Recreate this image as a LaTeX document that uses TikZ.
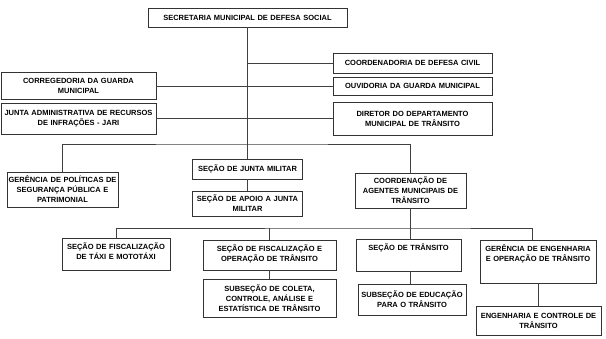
\documentclass[tikz,border=0pt]{standalone}
\usepackage{fontspec}
\setmainfont{Liberation Sans}
\begin{document}
\begin{tikzpicture}[x=1pt,y=-1pt,
  unit/.style={draw=black!80,line width=0.9pt,align=center,inner xsep=1pt,inner ysep=1.5pt,
    font=\bfseries\fontsize{7.5}{10}\selectfont},
  link/.style={black!75,line width=0.8pt}]
  \useasboundingbox (0,0) rectangle (606,339);
  % upper part
  \node[unit,text width=197pt,minimum height=19pt] (sec) at (247.5,17.5) {SECRETARIA MUNICIPAL DE DEFESA SOCIAL};
  \node[unit,text width=157pt,minimum height=20pt] (civil) at (412.5,63) {COORDENADORIA DE DEFESA CIVIL};
  \node[unit,text width=157pt,minimum height=18pt] (ouv) at (412.5,86) {OUVIDORIA DA GUARDA MUNICIPAL};
  \node[unit,text width=157pt,minimum height=33pt] (dir) at (412.5,118.5) {DIRETOR DO DEPARTAMENTO\\MUNICIPAL DE TRÂNSITO};
  \node[unit,text width=153pt,minimum height=27pt] (corr) at (78.5,86) {CORREGEDORIA DA GUARDA\\MUNICIPAL};
  \node[unit,text width=153pt,minimum height=31pt] (jari) at (78.5,118.5) {JUNTA ADMINISTRATIVA DE RECURSOS\\DE INFRAÇÕES - JARI};
  % second level
  \node[unit,text width=109pt,minimum height=35pt] (gpol) at (62.5,189.5) {GERÊNCIA DE POLÍTICAS DE\\SEGURANÇA PÚBLICA E\\PATRIMONIAL};
  \node[unit,text width=108pt,minimum height=20pt] (jmil) at (247.5,169) {SEÇÃO DE JUNTA MILITAR};
  \node[unit,text width=108pt,minimum height=25pt] (apoio) at (247.5,203.5) {SEÇÃO DE APOIO A JUNTA\\MILITAR};
  \node[unit,text width=109pt,minimum height=35pt] (cagt) at (410.5,190.5) {COORDENAÇÃO DE\\AGENTES MUNICIPAIS DE\\TRÂNSITO};
  % third level
  \node[unit,text width=106pt,text height=10.5pt,text depth=18.5pt] (taxi) at (116,254) {SEÇÃO DE FISCALIZAÇÃO\\DE TÁXI E MOTOTÁXI};
  \node[unit,text width=131pt,text height=10.5pt,text depth=16.5pt] (fisc) at (269.5,255) {SEÇÃO DE FISCALIZAÇÃO E\\OPERAÇÃO DE TRÂNSITO};
  \node[unit,text width=131pt,minimum height=38pt] (coleta) at (269.5,298) {SUBSEÇÃO DE COLETA,\\CONTROLE, ANÁLISE E\\ESTATÍSTICA DE TRÂNSITO};
  \node[unit,text width=103pt,text height=10.5pt,text depth=18.5pt] (strans) at (408.5,255) {SEÇÃO DE TRÂNSITO};
  \node[unit,text width=106pt,minimum height=31pt] (educ) at (412,299.5) {SUBSEÇÃO DE EDUCAÇÃO\\PARA O TRÂNSITO};
  \node[unit,text width=114pt,text height=10.5pt,text depth=29.5pt] (geng) at (538,261.5) {GERÊNCIA DE ENGENHARIA\\E OPERAÇÃO DE TRÂNSITO};
  \node[unit,text width=123pt,minimum height=29pt] (eng) at (538.5,320.5) {ENGENHARIA E CONTROLE DE\\TRÂNSITO};
  % connectors
  \coordinate (lvl1) at (247.5,144);
  \coordinate (lvl2) at (410.5,228);
  \draw[link] (sec.south) -- (jmil.north);
  \draw[link] (jmil.south) -- (apoio.north);
  \draw[link] (civil.west) -- (civil.west -| sec.south);
  \draw[link] (corr.east) -- (ouv.west);
  \draw[link] (jari.east) -- (dir.west);
  \draw[link] (gpol.north) |- (lvl1) -| (cagt.north);
  \draw[link] (cagt.south) -- (cagt.south |- strans.north);
  \draw[link] (taxi.north) |- (lvl2) -| ([xshift=-6pt]geng.north);
  \draw[link] (fisc.north) -- (fisc.north |- lvl2);
  \draw[link] (fisc.south) -- (coleta.north);
  \draw[link] (cagt.south |- strans.south) -- (cagt.south |- educ.north);
  \draw[link] (geng.south) -- (geng.south |- eng.north);
\end{tikzpicture}
\end{document}
